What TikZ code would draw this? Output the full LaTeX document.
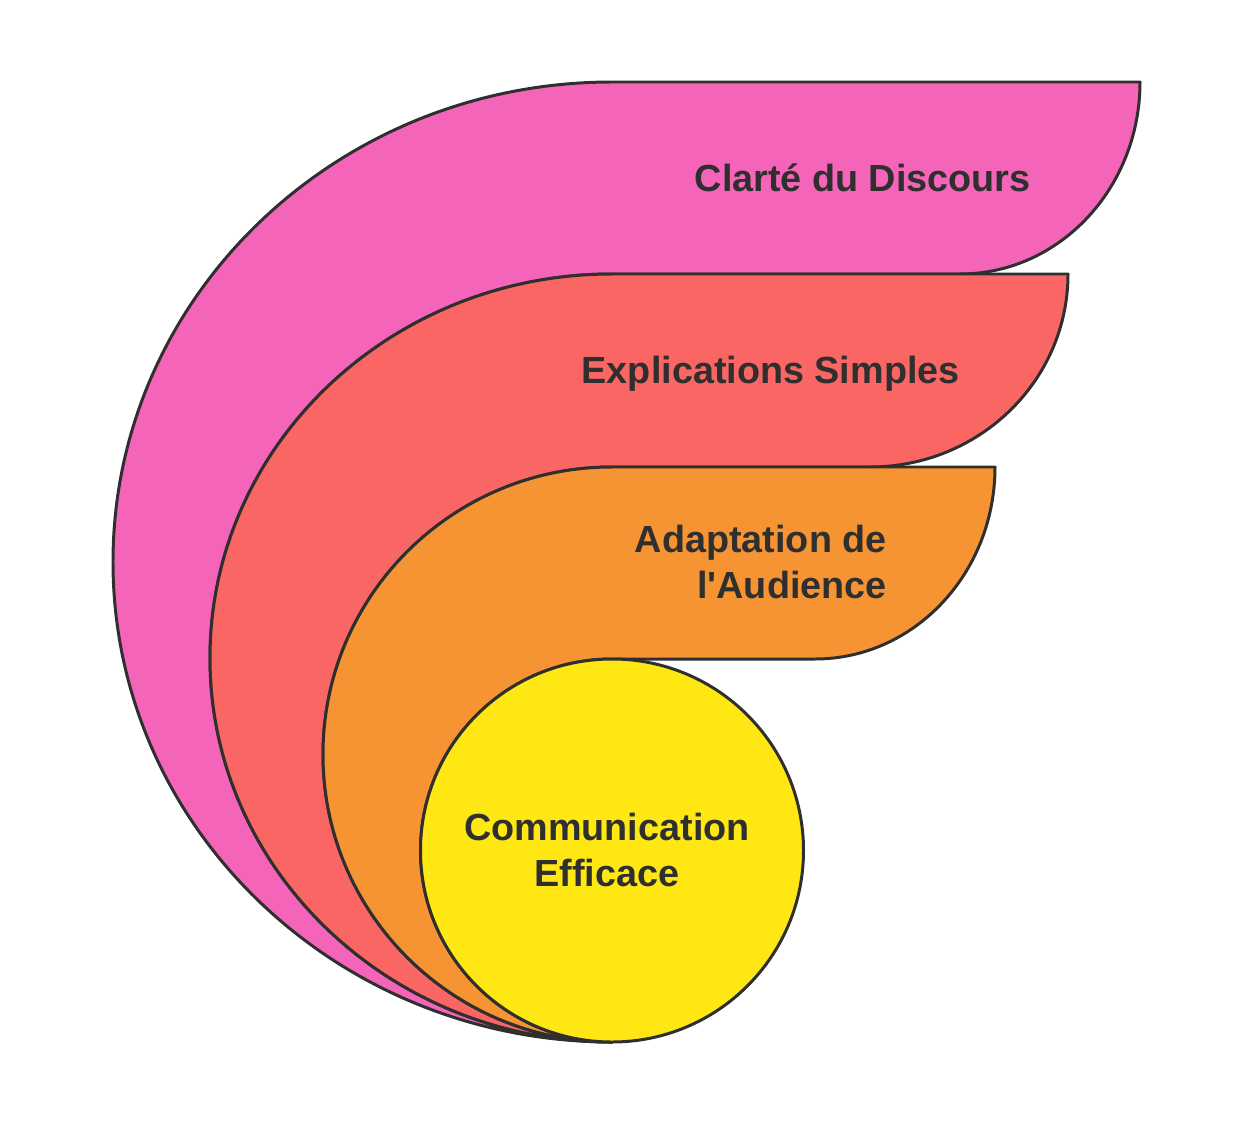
\documentclass[tikz,border=0pt]{standalone}
\usepackage{fontspec}
\setmainfont{Liberation Sans}[Ligatures=TeXOff]
\definecolor{pinkc}{HTML}{F464B9}
\definecolor{redc}{HTML}{F96663}
\definecolor{orangec}{HTML}{F69434}
\definecolor{yellowc}{HTML}{FFE714}
\definecolor{linec}{HTML}{2F2F2F}

\begin{document}
\begin{tikzpicture}[%
        x = 0.02cm, y = -0.02cm,
        layer/.style = {draw=linec, line width=1.7pt, line join=round},
        lbl/.style = {text=linec, inner sep=0pt, font=\bfseries\fontsize{21.5}{26.7}\selectfont}
    ]
      \useasboundingbox (0,0) rectangle (1246,1142);
      \draw[layer, fill=pinkc] (612,1042) arc[start angle=90, end angle=270, x radius=499, y radius=480]
        -- (1140,82) arc[start angle=0, end angle=90, x radius=180, y radius=192]
        -- (612,274) arc[start angle=270, end angle=90, x radius=402, y radius=384] -- cycle;
      \draw[layer, fill=redc] (612,1042) arc[start angle=90, end angle=270, x radius=402, y radius=384]
        -- (1068,274) arc[start angle=0, end angle=90, x radius=198, y radius=193]
        -- (612,467) arc[start angle=270, end angle=90, x radius=289, y radius=287.5] -- cycle;
      \draw[layer, fill=orangec] (612,1042) arc[start angle=90, end angle=270, x radius=289, y radius=287.5]
        -- (995,467) arc[start angle=0, end angle=90, x radius=180, y radius=192]
        -- (612,659) arc[start angle=270, end angle=90, radius=191.5] -- cycle;
      \draw[layer, fill=yellowc] (612,850.5) circle [radius=191.5];
      \node[lbl, anchor=base east] (discours) at (1031,192) {Clarté du Discours};
      \node[lbl, anchor=base east] (simples) at (960,383) {Explications Simples};
      \node[lbl, anchor=east, align=right] (audience) at (887,562) {Adaptation de\\l'Audience};
      \node[lbl, align=center] (comm) at (607,850) {Communication\\Efficace};
    \end{tikzpicture}
\end{document}
